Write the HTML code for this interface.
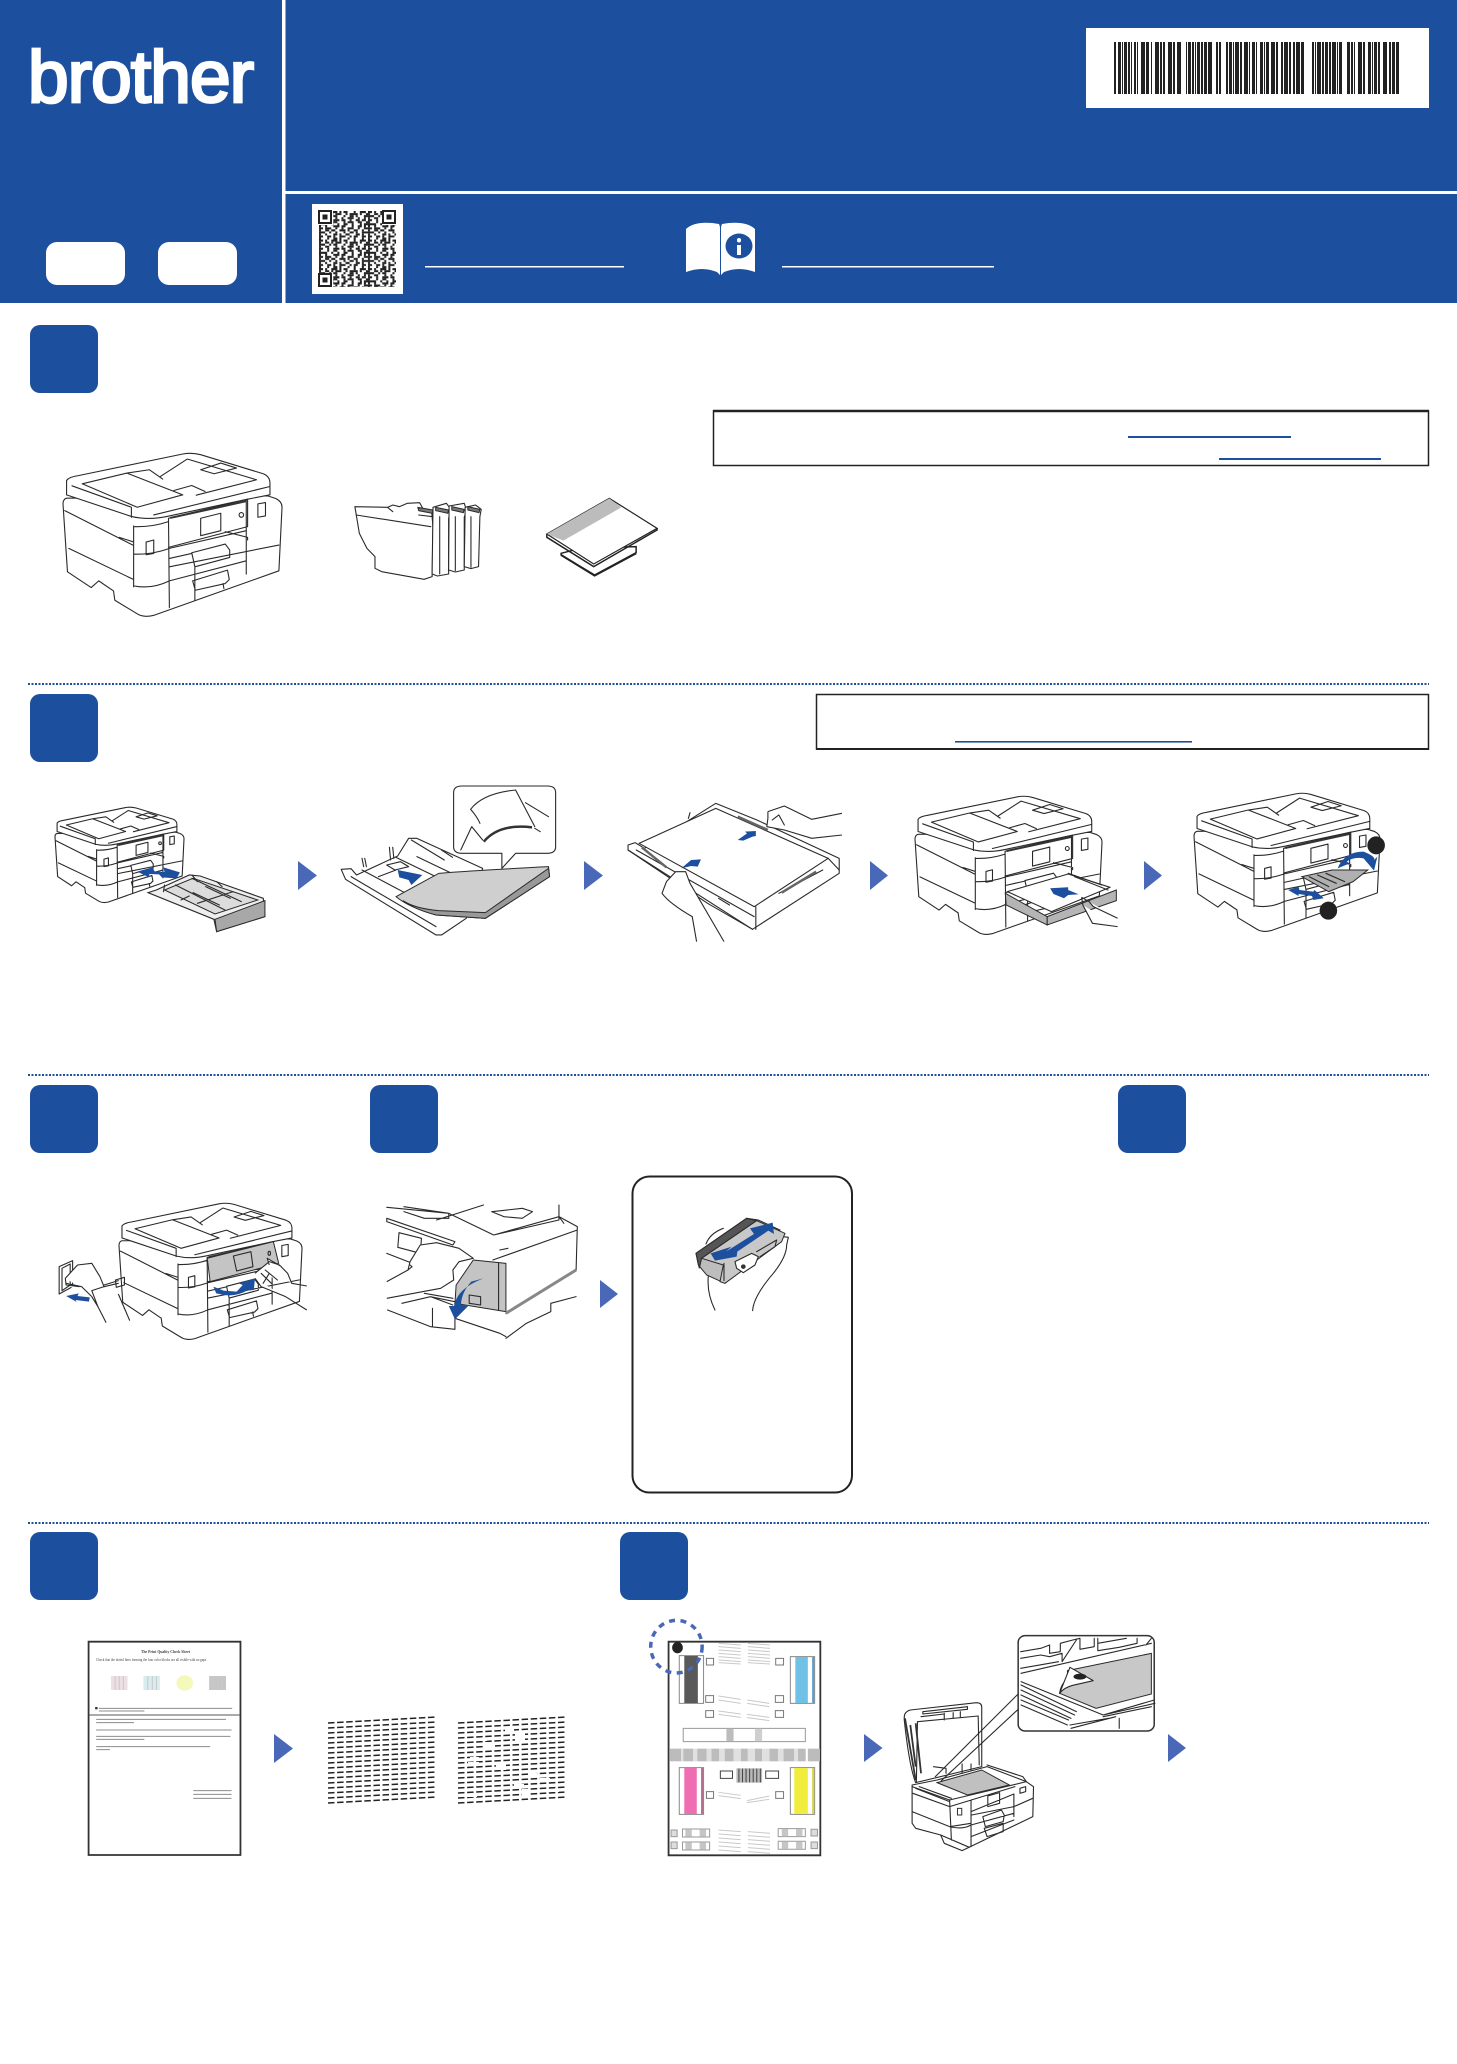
<!DOCTYPE html>
<html lang="en"><head><meta charset="utf-8"><title>Quick Setup Guide</title>
<style>
html,body{margin:0;padding:0;background:#fff}
svg{display:block;position:absolute;left:0;top:0}
svg path,svg rect,svg ellipse,svg circle,svg line,svg polygon{vector-effect:non-scaling-stroke}
.l{fill:none;stroke:#2a2a2a;stroke-width:1.1;stroke-linejoin:round;stroke-linecap:round}
.f{fill:#fff;stroke:#2a2a2a;stroke-width:1.1;stroke-linejoin:round}
.b{fill:#1d4f9f;stroke:none}
.t{fill:#4a68b8;stroke:none}
.s{fill:#1d4f9f;stroke:none}
.g{fill:none;stroke:#c9c9c9;stroke-width:1}
</style></head><body>
<svg xmlns="http://www.w3.org/2000/svg" width="1457" height="2064" viewBox="0 0 1457 2064">
<defs>
<g id="pr" transform="scale(.002041) translate(-142,-100)">
<path class="f" d="M150 235Q142 238 142 252L152 455L205 502L222 482L255 512L258 540L310 582Q325 592 345 585L625 452L632 262Q632 245 618 236L600 228Z"/>
<path class="f" d="M150 182Q155 172 175 168L410 103Q430 98 450 105L590 162Q605 170 605 190L605 225L555 238L380 288Q335 302 296 290L150 225Z"/>
<path class="l" d="M185 192L285 160L410 225L308 262ZM285 160L335 150L365 178M360 170L420 118L575 180L440 226M450 150L495 130L530 145L480 162ZM162 198L295 262L295 292M345 285L605 200M390 212L430 197L460 215"/>
<path class="l" d="M146 272L298 375M268 352L298 365M155 385L300 478M300 318L300 500M300 320Q340 322 378 305M300 402Q340 404 378 386M300 497Q340 508 380 482M378 295L380 562M378 295L555 238L555 320L378 382M450 295L495 280L495 332L450 347ZM380 385L552 332M505 335L555 352L555 360M380 440L625 375M380 482L552 422M552 240L552 462M380 415L430 400M430 398L505 372L515 390L515 412L437 440ZM432 482L510 450L514 478L505 490L438 510ZM437 440L437 540M500 490L502 505"/>
<path fill="none" stroke="#333" stroke-width="2" d="M382 294L552 244"/>
<ellipse class="l" cx="541" cy="285" rx="5" ry="7"/>
<path class="l" d="M328 366L345 360L345 400L328 404ZM578 252L595 248L595 288L578 292Z"/>
</g>
<pattern id="qr" x="319" y="211" width="40.8" height="23.8" patternUnits="userSpaceOnUse" patternTransform="translate(319,211) scale(1.2) translate(-319,-211)">
<g fill="none" stroke="#222" stroke-width="1.7">
<path stroke-dasharray="3.4 1.7 1.7 3.4 5.1 1.7 1.7 1.7 3.4 5.1 1.7 3.4 5.1" d="M0 .85H41"/>
<path stroke-dasharray="1.7 3.4 3.4 1.7 1.7 1.7 5.1 3.4 1.7 1.7 6.8 1.7" d="M0 2.55H41"/>
<path stroke-dasharray="5.1 3.4 1.7 1.7 3.4 5.1 1.7 3.4 3.4 1.7 1.7 5.1" d="M0 4.25H41"/>
<path stroke-dasharray="1.7 3.4 3.4 5.1 1.7 3.4 1.7 3.4 5.1 3.4 1.7 3.4" d="M0 5.95H41"/>
<path stroke-dasharray="3.4 3.4 1.7 3.4 5.1 1.7 3.4 3.4 1.7 3.4 3.4 1.7" d="M0 7.65H41"/>
<path stroke-dasharray="1.7 5.1 1.7 3.4 3.4 5.1 1.7 1.7 5.1 3.4 3.4 3.4" d="M0 9.35H41"/>
<path stroke-dasharray="6.8 3.4 1.7 3.4 1.7 3.4 3.4 3.4 1.7 5.1 1.7 1.7" d="M0 11.05H41"/>
<path stroke-dasharray="1.7 3.4 1.7 5.1 5.1 1.7 3.4 5.1 1.7 3.4 3.4 1.7" d="M0 12.75H41"/>
<path stroke-dasharray="3.4 1.7 5.1 3.4 1.7 3.4 1.7 3.4 5.1 3.4 1.7 3.4" d="M0 14.45H41"/>
<path stroke-dasharray="1.7 3.4 3.4 1.7 3.4 3.4 5.1 1.7 1.7 3.4 3.4 3.4" d="M0 16.15H41"/>
<path stroke-dasharray="5.1 3.4 1.7 3.4 1.7 5.1 1.7 3.4 3.4 1.7 1.7 3.4" d="M0 17.85H41"/>
<path stroke-dasharray="1.7 3.4 1.7 5.1 3.4 1.7 1.7 3.4 3.4 5.1 3.4 1.7" d="M0 19.55H41"/>
<path stroke-dasharray="3.4 3.4 3.4 1.7 1.7 3.4 5.1 3.4 1.7 1.7 3.4 3.4" d="M0 21.25H41"/>
<path stroke-dasharray="1.7 5.1 1.7 3.4 3.4 1.7 1.7 5.1 1.7 3.4 1.7 5.1" d="M0 22.95H41"/>
</g></pattern>
</defs>

<!-- Header -->
<rect x="0" y="0" width="1457" height="303" fill="#1d4f9f"/>
<rect x="282" y="0" width="3.5" height="303" fill="#fff"/>
<rect x="285" y="191" width="1172" height="3" fill="#fff"/>
<text x="28" y="102" font-family="'Liberation Sans',sans-serif" font-size="73" font-weight="400" fill="#fff" stroke="#fff" stroke-width="2.800" textLength="226" lengthAdjust="spacing">brother</text>
<rect x="46" y="242" width="79" height="43" rx="11" fill="#fff"/>
<rect x="158" y="242" width="79" height="43" rx="11" fill="#fff"/>

<!-- Barcode -->
<rect x="1086" y="28" width="343" height="80" fill="#fff"/>
<line x1="1114" y1="68" x2="1400" y2="68" stroke="#222" stroke-width="52" stroke-dasharray="2 2 3 1 1 1 3 1 2 1 1 2 2 1 1 3 4 1 3 2 1 3 4 1 2 1 2 3 4 1 2 2 4 5 1 1 3 1 2 1 1 1 3 1 2 1 3 1 4 4 2 1 2 5 2 1 3 1 1 1 4 1 2 2 4 1 1 2 3 1 1 3 3 1 1 1 3 2 4 1 2 3 2 1 4 1 2 2 2 1 4 1 3 8 2 1 1 1 4 1 2 1 3 1 2 1 4 1 1 1 3 5 3 1 2 1 1 3 4 1 2 3 3 1 1 1 3 1 2 3 4 2 2 1 3 1 3 50"/>

<!-- QR -->
<rect x="312" y="204" width="91" height="90" fill="#fff"/>
<rect x="319" y="211" width="77" height="76" fill="url(#qr)"/>
<g><rect x="318" y="210" width="15" height="15" fill="#fff"/><rect x="319" y="211" width="12" height="12" fill="none" stroke="#222" stroke-width="2"/><rect x="322.5" y="214.500" width="5" height="5" fill="#222"/>
<rect x="382" y="210" width="15" height="15" fill="#fff"/><rect x="383" y="211" width="12" height="12" fill="none" stroke="#222" stroke-width="2"/><rect x="386.5" y="214.500" width="5" height="5" fill="#222"/>
<rect x="318" y="273" width="15" height="15" fill="#fff"/><rect x="319" y="274" width="12" height="12" fill="none" stroke="#222" stroke-width="2"/><rect x="322.5" y="277.500" width="5" height="5" fill="#222"/></g>
<rect x="425" y="266" width="199" height="1.500" fill="#fff"/>
<rect x="782" y="266" width="212" height="1.500" fill="#fff"/>

<!-- Book icon -->
<path d="M686 229Q696 220 719 224Q720 226 720 228V271L720 275L717 272Q702 266 686 272Z" fill="#fff"/>
<path d="M755 229Q745 220 722 224Q721 226 721 228V275L724 272Q739 266 755 272Z" fill="#fff"/>
<ellipse cx="739" cy="246" rx="13.500" ry="12.500" fill="#1d4f9f"/>
<rect x="737" y="245" width="4" height="10" fill="#fff"/><rect x="737" y="238" width="4" height="4.500" rx="2" fill="#fff"/>

<!-- Step boxes -->
<g fill="#1d4f9f">
<rect x="30" y="325" width="68" height="68" rx="10"/>
<rect x="30" y="694" width="68" height="68" rx="10"/>
<rect x="30" y="1085" width="68" height="68" rx="10"/>
<rect x="370" y="1085" width="68" height="68" rx="10"/>
<rect x="1118" y="1085" width="68" height="68" rx="10"/>
<rect x="30" y="1532" width="68" height="68" rx="10"/>
<rect x="620" y="1532" width="68" height="68" rx="10"/>
</g>

<!-- Notice boxes -->
<rect x="713.500" y="411" width="715" height="54.500" fill="#fff" stroke="#222" stroke-width="1.500"/>
<line x1="713" y1="411" x2="1429" y2="411" stroke="#222" stroke-width="2.500"/>
<rect x="1128" y="436" width="163" height="2" fill="#1d4f9f"/>
<rect x="1219" y="458" width="162" height="2" fill="#1d4f9f"/>
<rect x="816.500" y="694.500" width="612" height="54.500" fill="#fff" stroke="#222" stroke-width="1.500"/>
<line x1="816" y1="749" x2="1429" y2="749" stroke="#222" stroke-width="2"/>
<rect x="955" y="741" width="237" height="1.600" fill="#1d4f9f"/>

<!-- Dotted dividers -->
<g stroke="#1d4f9f" stroke-width="2" stroke-dasharray="2 1.500">
<line x1="28" y1="684" x2="1429" y2="684"/>
<line x1="28" y1="1075" x2="1429" y2="1075"/>
<line x1="28" y1="1523" x2="1429" y2="1523"/>
</g>

<!-- Flow triangles -->
<g class="t">
<polygon points="298,861 317,875.500 298,890"/>
<polygon points="584,861 603,875.500 584,890"/>
<polygon points="870,861 888,875.500 870,890"/>
<polygon points="1144,861 1162,875.500 1144,890"/>
<polygon points="600,1280 618,1294 600,1308"/>
<polygon points="274,1734 293,1748.500 274,1763"/>
<polygon points="864,1734 882.500,1748 864,1762"/>
<polygon points="1168,1734 1186,1748 1168,1762"/>
</g>

<!-- STEP 1 parts -->
<use href="#pr" transform="translate(63,453) scale(219,164)"/>
<g transform="translate(0,420) scale(.4464,.3333)">
<path class="f" d="M795 260L868 262L880 255L895 260L912 250L940 248L947 265L967 275L970 320L968 470L950 478L855 455L840 445L840 410L822 385L805 340Z"/>
<path class="l" d="M798 285L965 320M938 285L970 290M868 262L880 275"/>
<path class="f" d="M970 262L1000 250L1010 268L1005 295L1005 462L980 468L968 462Z"/>
<path class="f" d="M1006 258L1040 250L1045 270L1040 292L1040 450L1020 456L1005 450Z"/>
<path class="f" d="M1042 262L1065 255L1078 268L1075 290L1072 440L1055 446L1040 440Z"/>
<path class="l" d="M985 290L985 462M1020 290L1020 452M1055 290L1055 442"/>
<path fill="#777" stroke="#2a2a2a" d="M936 262L970 270L968 280L938 272ZM976 262L1005 270L1003 280L976 272ZM1012 260L1040 268L1038 278L1012 270ZM1048 260L1075 268L1073 278L1048 270Z"/>
<polygon points="1257,400 1300,385 1425,380 1425,398 1332,465 1257,405" fill="#fff" stroke="#222" stroke-width="1.500"/>
<path fill="none" stroke="#222" stroke-width="2" d="M1257 405L1332 467L1425 400"/>
<polygon points="1225,342 1365,235 1472,325 1330,432" fill="#fff" stroke="#222" stroke-width="1.200"/>
<polygon points="1225,342 1365,235 1392,262 1262,362" fill="#bcbcbc"/>
<path fill="none" stroke="#222" stroke-width="1.500" d="M1225 342L1225 352L1330 440L1472 330L1472 325"/>
</g>

<!-- STEP 2a -->
<use href="#pr" transform="translate(55,807) scale(129,96)"/>
<g transform="translate(0,770) scale(.5485,.3333)">
<path d="M270 368L285 360L345 315L365 318L480 385L483 440L395 485L390 448Z" fill="#eeeeee" stroke="#2a2a2a" stroke-width="1.100"/>
<path d="M300 360L352 325L470 390L392 432Z" fill="#dcdcdc" stroke="#2a2a2a"/>
<path d="M392 448L483 392L483 440L395 485Z" fill="#a8a8a8" stroke="#2a2a2a"/>
<path class="l" d="M320 345L410 420M350 325L440 395M352 368L400 405M375 350L420 385M300 345L298 365M350 315L360 335M395 335L405 350M330 390L345 378M360 400L425 365"/>
<path class="s" d="M250 305L278 292L282 304L300 306L298 292L328 307L322 325L295 322L290 313L272 312L272 322Z"/>
</g>

<!-- STEP 2b -->
<g transform="translate(0,770) scale(.5485,.3333)">
<path class="f" d="M622 298L640 296L650 315L725 258L745 205L760 205L880 295L850 445L805 495L795 495L630 328Z"/>
<path class="l" d="M640 320L795 470M660 265L663 290M668 290L665 265M710 232L712 270M718 265L716 232M660 300L740 370M690 320L722 300M722 262L820 340M760 260L830 315M705 285L730 275L745 290L720 300ZM750 210L810 270M805 240L825 262"/>
<path d="M722 380L800 310Q880 300 1000 290L1002 320L885 445L795 435Q745 412 722 380Z" fill="#cfcfcf" stroke="#2a2a2a"/>
<path d="M885 428L1000 295L1002 320L885 445L795 435Q755 418 735 392Q755 415 800 422Z" fill="#999" stroke="#2a2a2a"/>
<path class="s" d="M725 300L770 315L750 345L745 330L728 322Z"/>
<path class="f" d="M842 48H998Q1013 48 1013 68V230Q1013 250 998 250H940L915 295V250H842Q827 250 827 230V68Q827 48 842 48Z"/>
<path class="l" d="M940 60Q880 70 858 118Q870 140 875 160M940 60L975 170M958 98L1000 140M840 240L860 170L880 210M985 185L975 175"/>
<path fill="none" stroke="#333" stroke-width="2.500" d="M882 215Q910 160 970 172"/>
</g>

<!-- STEP 2c -->
<g transform="translate(0,770) scale(.5485,.3333)">
<path class="f" d="M1145 225L1158 218L1175 235L1305 100L1380 150L1530 265L1530 310L1372 478L1290 400L1145 240Z"/>
<path class="f" d="M1165 220L1305 115L1510 265L1375 410Z"/>
<path class="l" d="M1145 240L1372 478M1160 240L1375 440M1378 410L1378 478M1510 265L1530 300M1420 370L1500 300M1310 385L1330 405M1255 145L1258 128"/>
<path fill="none" stroke="#666" stroke-width="2.500" d="M1170 232L1215 292M1345 140L1400 180M1425 368L1488 305"/>
<path class="s" d="M1345 210L1362 190L1358 185L1378 183L1378 198L1372 200L1355 212Z"/>
<path class="s" d="M1242 295L1260 270L1278 268L1272 290L1260 288Z"/>
<path class="f" d="M1270 515L1262 440Q1220 400 1207 370L1215 335L1232 305L1250 305L1258 340L1320 515"/>
<path class="f" d="M1400 125L1430 108L1480 148L1535 130M1400 145L1398 170L1430 180L1480 205L1535 195M1400 125L1400 145" style="fill:#fff"/>
<path class="l" d="M1408 150L1420 135L1430 165"/>
</g>

<!-- STEP 2d -->
<use href="#pr" transform="translate(915,796) scale(187,139)"/>
<g transform="translate(800,660) scale(.419,.3333)">
<path d="M490 700L590 770L590 795L492 735Z" fill="#b5b5b5" stroke="#2a2a2a"/>
<path d="M590 770L755 690L755 722L590 795Z" fill="#b5b5b5" stroke="#2a2a2a"/>
<path class="f" d="M495 695L640 642L740 682L600 755Z"/>
<path class="l" d="M640 640L720 675M655 650L735 690"/>
<path class="s" d="M597 685L605 702L630 715L640 705L665 703L640 690L640 682Z"/>
<path class="f" d="M672 712L690 725L700 740L758 775M675 735L698 790L758 800M672 712L675 735"/>
</g>

<!-- STEP 2e -->
<use href="#pr" transform="translate(1194,793) scale(186,139)"/>
<g transform="translate(800,660) scale(.419,.3333)">
<path d="M1198 650L1270 630L1355 630L1320 665L1262 695Z" fill="#b0b0b0" stroke="#2a2a2a"/>
<path class="l" d="M1215 650L1262 680M1235 645L1280 670M1255 640L1300 665"/>
<path class="s" d="M1283 625Q1300 575 1345 575Q1375 590 1370 600L1378 590L1370 632L1345 595Q1320 590 1305 605L1312 610Z"/>
<path class="s" d="M1165 690L1190 680L1192 690L1225 695L1228 690L1250 715L1225 720L1222 708L1190 702L1190 708Z"/>
<ellipse cx="1375" cy="556" rx="21" ry="27" fill="#222"/>
<ellipse cx="1261" cy="752" rx="21" ry="27" fill="#222"/>
</g>

<!-- STEP 3a -->
<use href="#pr" transform="translate(119,1203) scale(183,137)"/>
<g transform="translate(0,1170) scale(.408,.3333)">
<path d="M508 265L670 215L683 280L515 335Z" fill="#c4c4c4" stroke="#2a2a2a"/>
<path class="l" d="M572 258L615 245L620 290L580 303Z"/>
<ellipse class="l" cx="660" cy="250" rx="3" ry="6"/>
<path class="s" d="M523 350L548 362L580 365L595 345L585 340L625 325L622 360L605 362Q580 380 550 375L530 370Z"/>
<path class="f" d="M625 310L660 275L685 285L705 310L715 340L752 348M625 325L640 350L700 380L752 420M660 285L655 265L690 290"/>
<path class="l" d="M640 310L665 340M650 300L680 330M660 310L645 340"/>
<path class="f" d="M145 290L178 272L178 350L145 372Z"/>
<path class="l" d="M152 295L172 282L172 345L152 362ZM255 350L290 340M255 345L290 332M283 330L305 322L305 345L285 352Z"/>
<path class="f" d="M160 325L175 305L190 285L225 280L245 320L255 350L225 362L240 410L260 458M162 340L200 350L225 380L240 410M290 372L318 452M160 325L162 345L195 350"/>
<path class="s" d="M162 378L193 370L190 378L220 382L218 395L185 390L188 396Z"/>
</g>

<!-- STEP 3b -->
<g transform="translate(0,1170) scale(.408,.3333)">
<path class="l" d="M948 112L1100 130L1210 195L1370 150L1370 105M990 110L1100 130L1100 145L1040 145L990 125M1070 150L1185 105M1210 195L1370 140L1382 160M1205 125L1280 115L1305 125L1280 145L1235 140ZM948 145L1115 215L1110 225L948 155ZM978 188L1033 205L1030 250L975 232ZM948 250L1000 275L1030 290M1370 140L1415 170L1412 300L1240 430M1208 270L1415 180M1225 240L1245 235"/>
<path d="M1160 270L1240 280L1240 425L1115 400L1118 345Z" fill="#c4c4c4" stroke="#2a2a2a"/>
<path class="l" d="M1222 280L1222 420M1150 375L1178 380L1178 405L1150 400Z"/>
<path d="M1240 430L1412 300" stroke="#888" stroke-width="3" fill="none"/>
<path class="f" d="M948 335L1000 300L1005 275L1030 225L1070 218L1125 235L1160 265L1125 275L1110 300L1112 330L1080 355L948 385"/>
<path class="l" d="M1005 285L1010 290L1000 300"/>
<path class="l" d="M950 420L1055 470L1115 478L1115 400M1115 445L1225 490L1240 500M1055 380L1115 395M1240 505L1290 460L1350 425L1350 400L1412 380M1060 415L1060 470M985 400L1055 380L1110 405M1040 370L1110 385"/>
<path class="s" d="M1185 325L1155 335Q1130 370 1130 405L1150 405L1115 448L1100 408L1113 408Q1120 355 1185 325Z"/>
</g>

<!-- Rounded panel -->
<rect x="632.500" y="1176.500" width="219.500" height="316" rx="17" fill="#fff" stroke="#222" stroke-width="2"/>
<g transform="translate(600,1150) scale(.3333)">
<path class="l" d="M345 480Q320 430 325 378M318 282Q330 250 370 235M458 482Q460 440 520 370Q560 320 560 285L565 262L550 260L540 275"/>
<path d="M288 310L440 205L475 210L540 240L375 400L320 375L295 345Z" fill="#bdbdbd" stroke="#2a2a2a"/>
<path d="M288 310L440 205L470 212L305 325L298 355Z" fill="#555" stroke="#2a2a2a"/>
<path d="M305 325L470 212L555 250L545 275L375 400L360 395L370 345Z" fill="#c8c8c8" stroke="#2a2a2a"/>
<path class="l" d="M372 340L372 392"/>
<path class="f" d="M405 335L455 310L475 320L465 345L430 368L410 355Z"/>
<circle cx="430" cy="350" r="7" fill="#333"/>
<path class="l" d="M470 305L530 270L525 290L480 320"/>
<path class="s" d="M332 310L395 290L378 305L462 252L450 235L518 218L522 252L505 242L412 305L410 320L345 332Z"/>
</g>

<!-- STEP 4 sheet -->
<g transform="translate(60,1620) scale(.3444,.3333)">
<rect x="83" y="65" width="441" height="640" fill="#fff" stroke="#333" stroke-width="1.800"/>
<rect x="148" y="168" width="48" height="42" fill="#eddfe3"/>
<rect x="242" y="168" width="48" height="42" fill="#d9edf0"/>
<ellipse cx="362" cy="189" rx="24" ry="23" fill="#f4f8b8"/>
<rect x="433" y="168" width="49" height="42" fill="#c6c6c6"/>
<path class="g" d="M160 168V210M172 168V210M184 168V210M255 168V210M268 168V210M280 168V210M445 168V210M458 168V210M470 168V210"/>
<path stroke="#555" stroke-width="1" d="M84 285H521"/>
<g fill="none" stroke="#8c8c8c" stroke-width="1">
<path d="M113 265H500M113 273H245"/>
<path d="M105 298H482M105 308H215M105 330H498M105 349H495M105 358H245M105 380H436M105 389H145"/>
<path d="M387 512H498M387 523H498M387 535H498"/>
</g>
<rect x="102" y="261" width="7" height="7" fill="#333"/>
</g>
<g font-family="'Liberation Serif',serif" fill="#444">
<text x="141" y="1653" font-size="3.800" font-weight="700" textLength="49" lengthAdjust="spacingAndGlyphs">The Print Quality Check Sheet</text>
<text x="96" y="1661" font-size="3.600" textLength="111" lengthAdjust="spacingAndGlyphs">Check that the dotted lines forming the four color blocks are all visible with no gaps.</text>
</g>

<!-- Step 4 dash patterns -->
<g fill="none" stroke="#222" stroke-width="1.500" stroke-dasharray="6.500 2.600">
<path d="M328 1723L437 1717M328 1728L437 1722M328 1733L437 1727M328 1738L437 1732M328 1743L437 1737M328 1748L437 1742M328 1753L437 1747M328 1758L437 1752M328 1763L437 1757M328 1768L437 1762M328 1773L437 1767M328 1778L437 1772M328 1783L437 1777M328 1788L437 1782M328 1793L437 1787M328 1798L437 1792M328 1803L437 1797"/>
<path d="M458 1723L567 1717M458 1728L567 1722M458 1733L567 1727M458 1738L567 1732M458 1743L567 1737M458 1748L567 1742M458 1753L567 1747M458 1758L567 1752M458 1763L567 1757M458 1768L567 1762M458 1773L567 1767M458 1778L567 1772M458 1783L567 1777M458 1788L567 1782M458 1793L567 1787M458 1798L567 1792M458 1803L567 1797"/>
</g>
<g fill="#fff">
<rect x="505" y="1729" width="9" height="3"/><rect x="515" y="1733" width="10" height="9"/><rect x="478" y="1738" width="9" height="3"/><rect x="484" y="1742" width="11" height="8"/>
<rect x="470" y="1757" width="9" height="3"/><rect x="468" y="1762" width="11" height="3"/><rect x="496" y="1762" width="10" height="8"/>
<rect x="528" y="1773" width="9" height="4"/><rect x="540" y="1778" width="10" height="4"/><rect x="514" y="1784" width="10" height="4"/><rect x="522" y="1789" width="8" height="9"/><rect x="487" y="1797" width="9" height="3"/><rect x="466" y="1794" width="11" height="3"/><rect x="550" y="1789" width="9" height="3"/>
</g>

<!-- Step 4 alignment sheet -->
<g transform="translate(630,1610) scale(.3571,.3333)">
<rect x="108" y="95" width="425" height="641" fill="#fff" stroke="#333" stroke-width="1.800"/>
<g fill="#fff" stroke="#888">
<rect x="138" y="137" width="68" height="143"/><rect x="449" y="140" width="68" height="140"/><rect x="138" y="473" width="68" height="140"/><rect x="449" y="473" width="68" height="140"/>
</g>
<rect x="152" y="138" width="38" height="141" fill="#595959"/>
<rect x="463" y="141" width="35" height="138" fill="#6fc1e6"/><rect x="510" y="141" width="6" height="138" fill="#5c9fcb"/>
<rect x="152" y="474" width="35" height="138" fill="#ef6db3"/><rect x="199" y="474" width="6" height="138" fill="#b56d91"/>
<rect x="460" y="474" width="38" height="138" fill="#f1ed3d"/><rect x="510" y="474" width="6" height="138" fill="#d8d44a"/>
<ellipse cx="133" cy="113" rx="15" ry="17" fill="#222"/>
<g fill="#fff" stroke="#777">
<rect x="214" y="145" width="20" height="20"/><rect x="408" y="145" width="22" height="20"/><rect x="212" y="257" width="22" height="20"/><rect x="407" y="257" width="23" height="20"/><rect x="212" y="302" width="22" height="20"/><rect x="407" y="302" width="23" height="20"/><rect x="214" y="545" width="20" height="20"/><rect x="408" y="545" width="22" height="20"/>
</g>
<path class="g" d="M248 100L310 105M248 110L310 115M248 120L310 125M248 130L310 135M248 140L310 145M248 150L310 155M248 158L310 162M330 100L392 105M330 110L392 115M330 120L392 125M330 130L392 135M330 140L392 145M330 150L392 155M330 158L392 162M248 258L310 268M248 270L310 280M328 270L390 280M328 280L390 290M248 303L310 312M248 313L310 322M328 313L390 322M328 323L390 332M248 547L310 556M248 557L310 566M328 572L390 558M328 578L390 568M248 660L310 665M248 672L310 677M248 684L310 689M248 696L310 701M248 708L310 713M248 720L310 725M330 665L392 670M330 677L392 682M330 689L392 694M330 701L392 706M330 713L392 718M330 725L392 730"/>
<rect x="149" y="355" width="342" height="40" fill="#fff" stroke="#999"/>
<rect x="270" y="356" width="20" height="38" fill="#bdbdbd"/><rect x="350" y="356" width="20" height="38" fill="#cfcfcf"/>
<g fill="#bcbcbc"><rect x="110" y="416" width="33" height="38"/><rect x="149" y="416" width="28" height="38"/><rect x="188" y="416" width="27" height="38"/><rect x="228" y="416" width="22" height="38"/><rect x="265" y="416" width="25" height="38"/><rect x="310" y="416" width="20" height="38"/><rect x="350" y="416" width="20" height="38"/><rect x="390" y="416" width="25" height="38"/><rect x="430" y="416" width="30" height="38"/><rect x="470" y="416" width="22" height="38"/><rect x="498" y="416" width="34" height="38"/></g>
<path fill="#e0e0e0" d="M143 416H149V454H143ZM177 416H188V454H177ZM215 416H228V454H215ZM250 416H265V454H250ZM290 416H310V454H290ZM330 416H350V454H330ZM370 416H390V454H370ZM415 416H430V454H415ZM460 416H470V454H460Z"/>
<g fill="#fff" stroke="#444"><rect x="253" y="483" width="34" height="22"/><rect x="380" y="483" width="36" height="22"/></g>
<rect x="298" y="475" width="72" height="43" fill="#b8b8b8"/>
<path stroke="#444" stroke-width="1" d="M305 476V517M315 476V517M325 476V517M335 476V517M345 476V517M355 476V517M365 476V517"/>
<g fill="#ddd" stroke="#999">
<rect x="115" y="660" width="17" height="20"/><rect x="115" y="696" width="17" height="20"/><rect x="507" y="658" width="18" height="20"/><rect x="507" y="696" width="18" height="20"/>
</g>
<g fill="#fff" stroke="#999"><rect x="147" y="657" width="76" height="24"/><rect x="147" y="696" width="76" height="24"/><rect x="415" y="656" width="76" height="24"/><rect x="415" y="694" width="76" height="24"/></g>
<g fill="#c5c5c5"><rect x="155" y="658" width="18" height="22"/><rect x="195" y="658" width="18" height="22"/><rect x="155" y="697" width="18" height="22"/><rect x="195" y="697" width="18" height="22"/><rect x="425" y="657" width="18" height="22"/><rect x="465" y="657" width="18" height="22"/><rect x="425" y="695" width="18" height="22"/><rect x="465" y="695" width="18" height="22"/></g>
<ellipse cx="130" cy="110" rx="72" ry="79" fill="none" stroke="#4a68b8" stroke-width="3.500" stroke-dasharray="6 5.500"/>
</g>

<!-- Step 4 scanner -->
<g transform="translate(630,1610) scale(.3571,.3333)">
<path class="f" d="M790 525L790 640L800 655L870 675L880 700L930 722L1128 620L1130 530L1110 515L1000 470L860 510Z"/>
<path class="f" d="M768 322Q768 305 785 300L970 278Q985 278 985 292L985 470L800 518Q782 470 768 330Z"/>
<path class="l" d="M820 305L945 290L945 298L820 312ZM805 335L975 318L978 465M805 335L802 515M815 320L880 312M880 310L880 330M905 308L905 325M925 305L925 322M850 470L885 475L885 490M930 462L930 490M955 462L955 480M790 530L895 570L1110 515L1100 500L1000 465"/>
<path fill="none" stroke="#333" stroke-width="1.800" d="M770 325L800 510M785 345L800 470M800 340L815 490"/>
<path d="M860 518L985 480L1062 525L945 555Z" fill="#c0c0c0" stroke="#2a2a2a"/>
<path class="l" d="M792 550L895 590L1078 530M800 535L895 575M810 530L900 565M895 570L900 690M955 570L955 710M955 605L1075 552L1075 620M1002 558L1035 548L1035 580L1002 590ZM957 615L1075 590M955 645L1075 610M955 680L1075 630M988 620L1040 600L1048 615L1045 635L995 650ZM992 655L1045 640L1045 665L1000 680ZM790 605L895 650L955 640M895 650Q930 660 955 645M1075 590L1128 565M1092 535L1108 530L1108 545L1092 550ZM870 675L950 712"/>
<rect x="917" y="595" width="12" height="20" fill="none" stroke="#333"/>
<path class="l" d="M855 500L1087 252M872 512L1087 298"/>
<rect x="1087" y="77" width="381" height="286" rx="20" fill="#fff" stroke="#333" stroke-width="1.500"/>
<path class="l" d="M1094 125L1150 115L1175 105L1175 130L1205 125L1205 100L1240 90L1260 85L1260 118L1300 110L1300 85M1094 145L1150 135L1175 140L1210 130M1094 175L1200 155M1210 130L1210 155L1250 90M1310 85L1310 122L1370 112L1420 100L1420 85M1310 100L1390 85M1095 190L1460 100M1445 105L1460 85M1095 215L1325 315L1468 270M1095 225L1250 305M1095 240L1245 315M1095 255L1235 325M1095 270L1228 330M1095 285L1225 345M1232 345L1340 325M1325 315L1470 280M1235 355L1360 320M1370 325L1370 355M1325 320L1460 290"/>
<path d="M1225 182L1460 130L1460 252L1305 295L1203 250Q1205 225 1225 205Z" fill="#c8c8c8" stroke="#2a2a2a"/>
<path class="f" d="M1232 172L1297 212L1240 226Q1215 233 1203 250Z"/>
<ellipse cx="1260" cy="200" rx="18" ry="9" fill="#222"/>
</g>
</svg>
</body></html>
